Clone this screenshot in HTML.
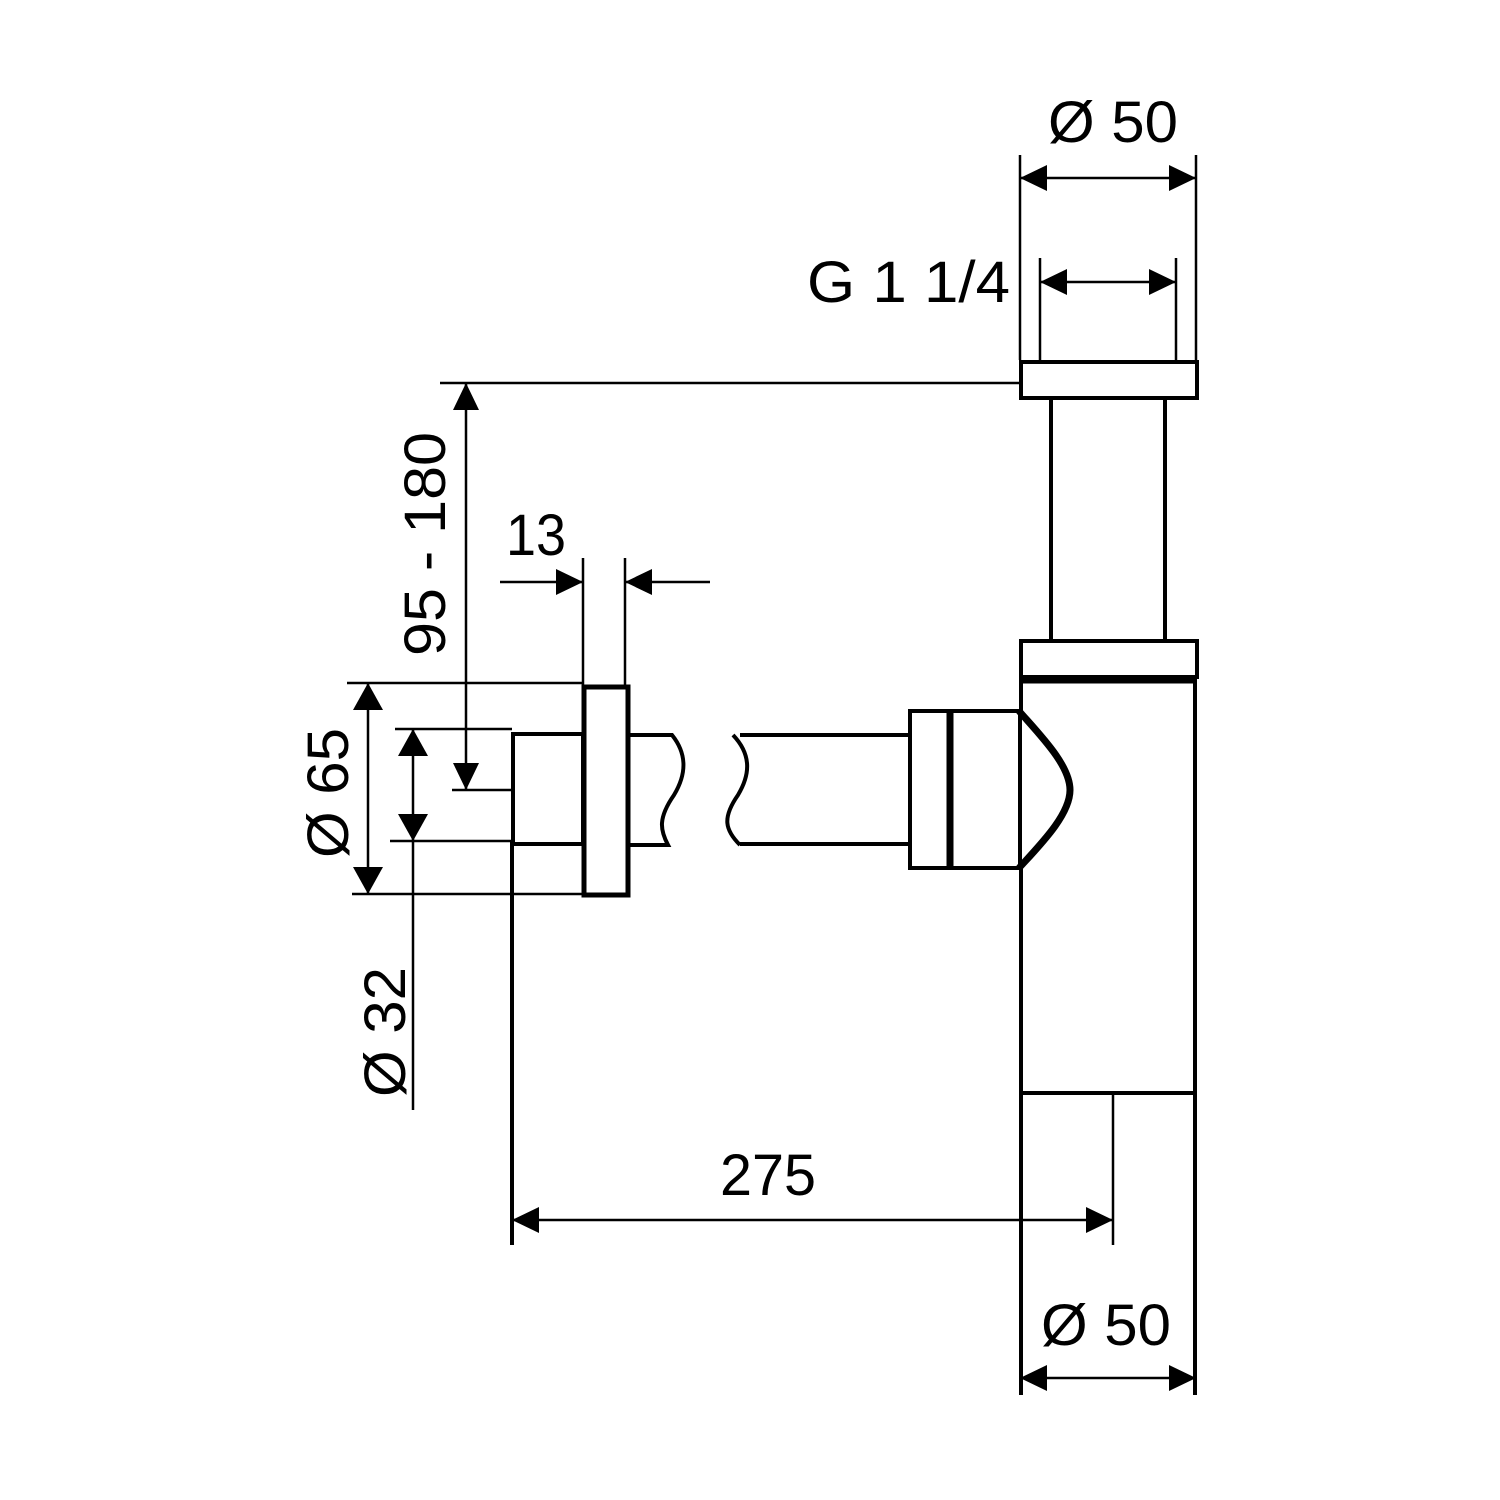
<!DOCTYPE html>
<html><head><meta charset="utf-8"><style>html,body{margin:0;padding:0;background:#fff}svg{display:block}</style></head><body>
<svg width="1500" height="1500" viewBox="0 0 1500 1500" xmlns="http://www.w3.org/2000/svg">
<g font-family="Liberation Sans, sans-serif" font-size="58" fill="#000">
<text x="1048" y="142" textLength="130" lengthAdjust="spacingAndGlyphs">Ø 50</text>
<text x="807" y="302" textLength="203" lengthAdjust="spacingAndGlyphs">G 1 1/4</text>
<text x="506" y="555" textLength="60" lengthAdjust="spacingAndGlyphs">13</text>
<text x="720" y="1195" textLength="96" lengthAdjust="spacingAndGlyphs">275</text>
<text x="1041" y="1345" textLength="130" lengthAdjust="spacingAndGlyphs">Ø 50</text>
<text transform="translate(445,656) rotate(-90)" textLength="224" lengthAdjust="spacingAndGlyphs">95 - 180</text>
<text transform="translate(348,858) rotate(-90)" textLength="130" lengthAdjust="spacingAndGlyphs">Ø 65</text>
<text transform="translate(405,1097) rotate(-90)" textLength="130" lengthAdjust="spacingAndGlyphs">Ø 32</text>
</g>
<g stroke="#000" fill="none">
<!-- thin dimension lines -->
<g stroke-width="2.5">
<line x1="1020" y1="155" x2="1020" y2="360"/><line x1="1196" y1="155" x2="1196" y2="360"/>
<line x1="1020" y1="178" x2="1196" y2="178"/>
<line x1="1040" y1="258" x2="1040" y2="360"/><line x1="1176" y1="258" x2="1176" y2="360"/>
<line x1="1040" y1="282" x2="1176" y2="282"/>
<line x1="440" y1="383" x2="1020" y2="383"/>
<line x1="466" y1="383" x2="466" y2="790"/>
<line x1="452" y1="790" x2="512" y2="790"/>
<line x1="500" y1="582" x2="583" y2="582"/><line x1="625" y1="582" x2="710" y2="582"/>
<line x1="583" y1="558" x2="583" y2="686"/><line x1="625" y1="558" x2="625" y2="686"/>
<line x1="347" y1="683" x2="583" y2="683"/><line x1="352" y1="894" x2="583" y2="894"/>
<line x1="368" y1="683" x2="368" y2="894"/>
<line x1="395" y1="729" x2="512" y2="729"/><line x1="390" y1="841" x2="512" y2="841"/>
<line x1="413" y1="729" x2="413" y2="1110"/>
<line x1="512" y1="1220" x2="1113" y2="1220"/>
<line x1="1020" y1="1378" x2="1196" y2="1378"/>
<line x1="1113" y1="1093" x2="1113" y2="1245"/>
</g>
<!-- parts -->
<g stroke-width="4">
<rect x="1021" y="362" width="176" height="36"/>
<line x1="1051" y1="398" x2="1051" y2="640"/><line x1="1165" y1="398" x2="1165" y2="640"/>
<rect x="1021" y="641" width="176" height="36"/>
<line x1="1021" y1="677" x2="1021" y2="712"/>
<line x1="1021" y1="866" x2="1021" y2="1093"/>
<line x1="1195" y1="677" x2="1195" y2="1093"/>
<line x1="1021" y1="1093" x2="1195" y2="1093"/>
<line x1="1021" y1="1093" x2="1021" y2="1395"/><line x1="1195" y1="1093" x2="1195" y2="1395"/>
<line x1="512" y1="841" x2="512" y2="1245"/>
<rect x="910" y="711" width="110" height="157"/>
<line x1="740" y1="735" x2="910" y2="735"/><line x1="740" y1="844" x2="910" y2="844"/>
<path d="M733 735 C752 755 750 775 738 795 C722 818 725 830 740 845"/>
<path d="M628 735 L672 735 C688 755 686 775 674 795 C658 818 660 830 668 845 L628 845"/>
<rect x="513" y="734" width="70" height="110"/>
<rect x="584" y="687" width="44" height="208" stroke-width="5"/>
</g>
<line x1="1021" y1="680" x2="1195" y2="680" stroke-width="7"/>
<line x1="950" y1="711" x2="950" y2="868" stroke-width="7"/>
<path d="M1019 711 C1040 735 1070 765 1070 790 C1070 815 1040 845 1019 868" stroke-width="7"/>
</g>
<!-- arrowheads -->
<g fill="#000">
<polygon points="1020,178 1047,165 1047,191"/><polygon points="1196,178 1169,165 1169,191"/>
<polygon points="1040,282 1067,269 1067,295"/><polygon points="1176,282 1149,269 1149,295"/>
<polygon points="466,383 453,410 479,410"/><polygon points="466,790 453,763 479,763"/>
<polygon points="583,582 556,569 556,595"/><polygon points="625,582 652,569 652,595"/>
<polygon points="368,683 353,710 383,710"/><polygon points="368,894 353,867 383,867"/>
<polygon points="413,729 398,756 428,756"/><polygon points="413,841 398,814 428,814"/>
<polygon points="512,1220 539,1207 539,1233"/><polygon points="1113,1220 1086,1207 1086,1233"/>
<polygon points="1020,1378 1047,1365 1047,1391"/><polygon points="1196,1378 1169,1365 1169,1391"/>
</g>
</svg>
</body></html>
